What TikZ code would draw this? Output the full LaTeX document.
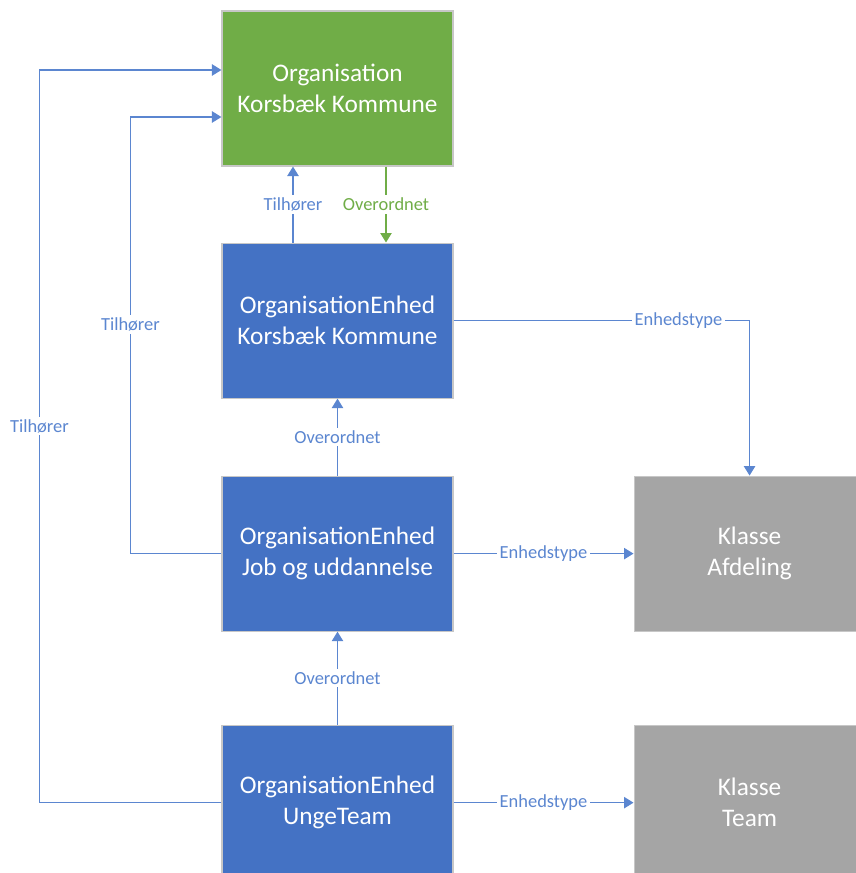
\documentclass[tikz,border=0pt]{standalone}
\usepackage{fontspec}
\setmainfont{Carlito}
\usepackage{tikz}
\usetikzlibrary{positioning, arrows.meta}
\definecolor{orgGreen}{HTML}{70AD47}
\definecolor{enhedBlue}{HTML}{4472C4}
\definecolor{klasseGray}{HTML}{A5A5A5}
\definecolor{lineBlue}{HTML}{5B86D0}

\begin{document}
\begin{tikzpicture}[
  node distance=1.52cm and 3.6cm,
  box/.style={
    rectangle,
    draw=white!78!black,
    line width=0.6pt,
    minimum width=4.62cm,
    minimum height=3.1cm,
    align=center,
    text=white,
    font=\fontsize{14.4}{17.6}\selectfont
  },
  orgbox/.style={box, fill=orgGreen},
  enhedbox/.style={box, fill=enhedBlue},
  klassebox/.style={box, fill=klasseGray},
  arrow/.style={
    -{Triangle[length=5.4pt,width=6.4pt]},
    line width=0.9pt,
    draw=lineBlue
  },
  greenarrow/.style={arrow, draw=orgGreen},
  lbl/.style={
    fill=white,
    inner sep=1.5pt,
    text=lineBlue,
    font=\fontsize{10.5}{12}\selectfont
  }
]
  \useasboundingbox (0,0) rectangle (17.12,-17.46);
  \clip (0,0) rectangle (17.12,-17.46);

  % Define nodes
  \node[orgbox] (org) at (6.75,-1.77) {Organisation\\Korsbæk Kommune};
  \node[enhedbox] (oek) [below=of org] {OrganisationEnhed\\Korsbæk Kommune};
  \node[enhedbox] (job) [below=1.54cm of oek] {OrganisationEnhed\\Job og uddannelse};
  \node[enhedbox] (ut) [below=1.86cm of job] {OrganisationEnhed\\UngeTeam};
  \node[klassebox] (afd) [right=of job] {Klasse\\Afdeling};
  \node[klassebox] (team) [right=of ut] {Klasse\\Team};

  % Connect nodes with arrows
  \draw[arrow] ([xshift=-0.89cm]oek.north) -- node[lbl]{Tilhører} ([xshift=-0.89cm]org.south);
  \draw[greenarrow] ([xshift=0.97cm]org.south) -- node[lbl, text=orgGreen]{Overordnet} ([xshift=0.97cm]oek.north);
  \draw[arrow] (oek.east) -| node[lbl, pos=0.38]{Enhedstype} (afd.north);
  \draw[arrow] (job.north) -- node[lbl]{Overordnet} (oek.south);
  \draw[arrow] (ut.north) -- node[lbl]{Overordnet} (job.south);
  \draw[arrow] (job.east) -- node[lbl]{Enhedstype} (afd.west);
  \draw[arrow] (ut.east) -- node[lbl]{Enhedstype} (team.west);
  \draw[arrow] (job.west) -- ++(-1.82cm,0) |- node[lbl, pos=0.262]{Tilhører} ([yshift=-0.57cm]org.west);
  \draw[arrow] (ut.west) -- ++(-3.64cm,0) |- node[lbl, pos=0.257]{Tilhører} ([yshift=0.37cm]org.west);
\end{tikzpicture}
\end{document}
